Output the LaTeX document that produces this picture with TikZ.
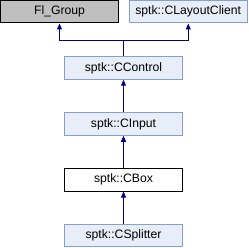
\documentclass[tikz,border=0pt]{standalone}
\usepackage{fontspec}
\setmainfont{Liberation Sans}
\usetikzlibrary{arrows.meta}
\definecolor{boxfill}{HTML}{E8EEF7}
\definecolor{boxline}{HTML}{84A0D0}
\definecolor{grayfill}{HTML}{BFBFBF}
\definecolor{arrcol}{HTML}{000080}
\begin{document}
\begin{tikzpicture}[x=1pt,y=-1pt,
  cls/.style={draw=boxline,fill=boxfill,line width=1pt,minimum width=118pt,minimum height=22.5pt,inner sep=0pt,font=\fontsize{12.2}{14}\selectfont},
  ext/.style={cls,draw=black,fill=grayfill},
  cur/.style={cls,draw=black,fill=white},
  arr/.style={draw=arrcol,line width=1pt,-{Triangle[length=6pt,width=5pt]}}]
\useasboundingbox (0,0) rectangle (248,248);
\node[ext] (fl) at (59.5,11.75) {Fl\_Group};
\node[cls] (lc) at (188.25,11.75) {sptk::CLayoutClient};
\node[cls] (cc) at (123.5,68) {sptk::CControl};
\node[cls] (ci) at (123.5,124) {sptk::CInput};
\node[cur] (cb) at (123.5,179.75) {sptk::CBox};
\node[cls] (cs) at (123.5,235.5) {sptk::CSplitter};
\coordinate (j) at (123.5,40.5);
\draw[arr] (cc.north) -- (j) -| (fl.south);
\draw[arr] (j) -| (lc.south);
\draw[arr] (cs.north) -- (cb.south);
\draw[arr] (cb.north) -- (ci.south);
\draw[arr] (ci.north) -- (cc.south);
\end{tikzpicture}
\end{document}
